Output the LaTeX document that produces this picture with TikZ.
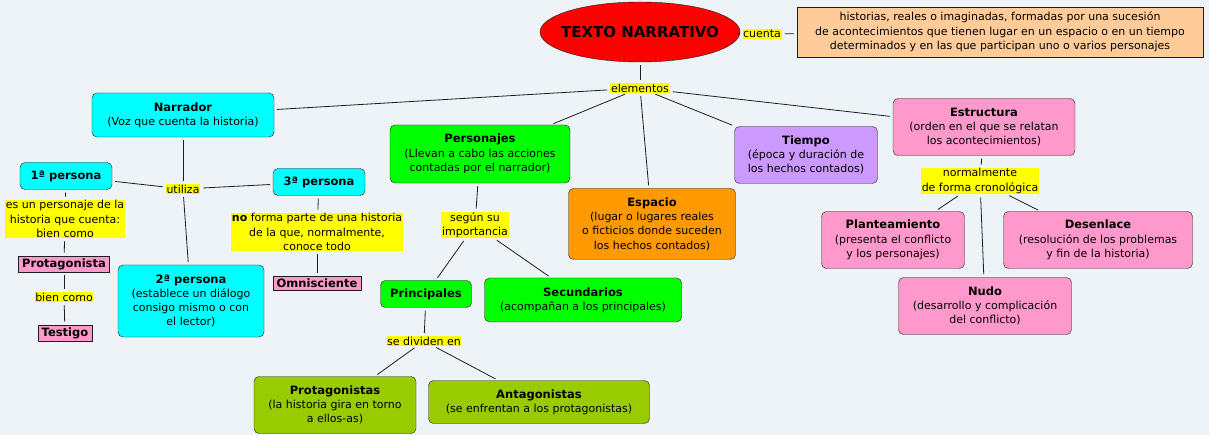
\documentclass[tikz,border=0pt]{standalone}
\usepackage{fontspec}
\setmainfont{DejaVu Sans}
\usetikzlibrary{shapes,positioning}
\definecolor{mapbg}{RGB}{237,243,246}
\definecolor{mapred}{RGB}{255,0,0}
\definecolor{mapsand}{RGB}{255,204,153}
\definecolor{mapcyan}{RGB}{0,255,255}
\definecolor{mapgreen}{RGB}{0,255,0}
\definecolor{maporange}{RGB}{255,153,0}
\definecolor{mapviolet}{RGB}{204,153,255}
\definecolor{mappink}{RGB}{255,153,204}
\definecolor{mapolive}{RGB}{153,204,0}
\definecolor{mapyellow}{RGB}{255,255,0}
\definecolor{mapline}{RGB}{30,30,30}
\newcommand{\mapfont}{\fontsize{11}{14.3}\selectfont}
\newcommand{\ttl}[1]{{\fontsize{11.5}{14.3}\selectfont\bfseries #1}}

\begin{document}
\begin{tikzpicture}[x=1pt, y=-1pt,
    box/.style={draw=mapline, rounded corners=5pt, fill=#1, align=center, inner sep=2pt, font=\mapfont},
    tag/.style={draw=mapline, fill=mappink, inner xsep=3.5pt, inner ysep=2.5pt, font=\fontsize{11.5}{14.3}\selectfont\bfseries},
    lbl/.style={fill=mapyellow, align=center, inner sep=0.6pt, font=\mapfont},
    link/.style={draw=mapline, line width=0.8pt, shorten <=3pt, shorten >=3pt}
]
\fill[mapbg] (0,0) rectangle (1209,435);

% Root
\node[ellipse, draw=mapline, fill=mapred, minimum width=200pt, minimum height=60pt, inner sep=0pt,
    label={[font=\fontsize{15}{18}\selectfont\bfseries]center:TEXTO NARRATIVO}] (texto) at (640,32) {};
\node[lbl] (cuenta) at (762,34) {cuenta};
\node[draw=mapline, fill=mapsand, align=center, minimum width=406pt, minimum height=50pt, font=\mapfont] (historias) at (1000,32) {historias, reales o imaginadas, formadas por una sucesión\\de acontecimientos que tienen lugar en un espacio o en un tiempo\\determinados y en las que participan uno o varios personajes};
\node[lbl] (elementos) at (640,88) {elementos};

% Narrador
\node[box=mapcyan, minimum width=182pt, minimum height=44pt] (narrador) at (183,115) {\ttl{Narrador}\\(Voz que cuenta la historia)};
\node[lbl] (utiliza) at (183,189) {utiliza};
\node[box=mapcyan, minimum width=92pt, minimum height=27pt] (primera) at (66,176) {\ttl{1ª persona}};
\node[box=mapcyan, minimum width=92pt, minimum height=27pt] (tercera) at (319,182) {\ttl{3ª persona}};
\node[box=mapcyan, minimum width=146pt, minimum height=72pt] (segunda) at (191,301) {\ttl{2ª persona}\\(establece un diálogo\\consigo mismo o con\\el lector)};
\node[lbl] (esun) at (65,219) {es un personaje de la\\historia que cuenta:\\bien como};
\node[tag] (protagonista) at (64,264) {Protagonista};
\node[lbl] (biencomo) at (64,297) {bien como};
\node[tag] (testigo) at (65,333) {Testigo};
\node[lbl] (noforma) at (317,232) {\textbf{no} forma parte de una historia\\de la que, normalmente,\\conoce todo};
\node[tag] (omnisciente) at (317,283) {Omnisciente};

% Personajes
\node[box=mapgreen, minimum width=180pt, minimum height=58pt] (personajes) at (480,154) {\ttl{Personajes}\\(Llevan a cabo las acciones\\contadas por el narrador)};
\node[lbl] (segun) at (475,225) {según su\\importancia};
\node[box=mapgreen, minimum width=91pt, minimum height=27pt] (principales) at (426,294) {\ttl{Principales}};
\node[box=mapgreen, minimum width=197pt, minimum height=44pt] (secundarios) at (583,300) {\ttl{Secundarios}\\(acompañan a los principales)};
\node[lbl] (sedividen) at (424,341) {se dividen en};
\node[box=mapolive, minimum width=162pt, minimum height=57pt] (protagonistas) at (335,405) {\ttl{Protagonistas}\\(la historia gira en torno\\a ellos-as)};
\node[box=mapolive, minimum width=221pt, minimum height=43pt] (antagonistas) at (539,402) {\ttl{Antagonistas}\\(se enfrentan a los protagonistas)};

% Espacio y tiempo
\node[box=maporange, minimum width=167pt, minimum height=71pt] (espacio) at (652,224) {\ttl{Espacio}\\(lugar o lugares reales\\o ficticios donde suceden\\los hechos contados)};
\node[box=mapviolet, minimum width=143pt, minimum height=57pt] (tiempo) at (806,155) {\ttl{Tiempo}\\(época y duración de\\los hechos contados)};

% Estructura
\node[box=mappink, minimum width=182pt, minimum height=57pt] (estructura) at (984,127) {\ttl{Estructura}\\(orden en el que se relatan\\los acontecimientos)};
\node[lbl] (normalmente) at (980,181) {normalmente\\de forma cronológica};
\node[box=mappink, minimum width=143pt, minimum height=57pt] (planteamiento) at (893,240) {\ttl{Planteamiento}\\(presenta el conflicto\\y los personajes)};
\node[box=mappink, minimum width=189pt, minimum height=57pt] (desenlace) at (1098,240) {\ttl{Desenlace}\\(resolución de los problemas\\y fin de la historia)};
\node[box=mappink, minimum width=173pt, minimum height=57pt] (nudo) at (985,306) {\ttl{Nudo}\\(desarrollo y complicación\\del conflicto)};

% Links
\draw[link] (texto) -- (cuenta);
\draw[link] (cuenta) -- (historias);
\draw[link] (texto) -- (elementos);
\foreach \n in {narrador, personajes, espacio, tiempo, estructura}
    \draw[link] (elementos) -- (\n);
\draw[link] (narrador) -- (utiliza);
\foreach \n in {primera, segunda, tercera}
    \draw[link] (utiliza) -- (\n);
\draw[link] (primera) -- (esun);
\draw[link] (esun) -- (protagonista);
\draw[link] (protagonista) -- (biencomo);
\draw[link] (biencomo) -- (testigo);
\draw[link] (tercera) -- (noforma);
\draw[link] (noforma) -- (omnisciente);
\draw[link] (personajes) -- (segun);
\draw[link] (segun) -- (principales);
\draw[link] (segun) -- (secundarios);
\draw[link] (principales) -- (sedividen);
\draw[link] (sedividen) -- (protagonistas);
\draw[link] (sedividen) -- (antagonistas);
\draw[link] (estructura) -- (normalmente);
\foreach \n in {planteamiento, nudo, desenlace}
    \draw[link] (normalmente) -- (\n);
\end{tikzpicture}
\end{document}
